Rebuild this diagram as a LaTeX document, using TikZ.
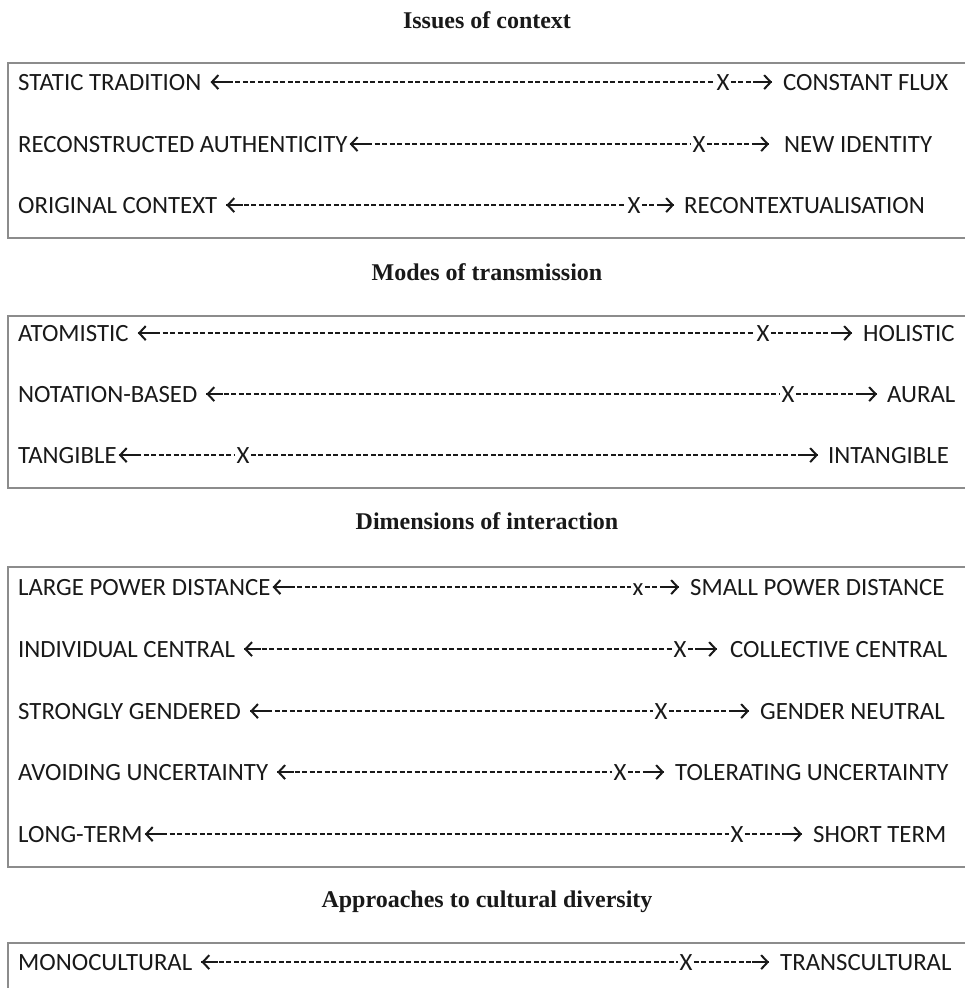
\documentclass[tikz,border=0pt]{standalone}
\usepackage{fontspec}
\newfontfamily\rowfont{Carlito}
\newfontfamily\headfont{Liberation Serif}
\usetikzlibrary{arrows.meta}
\definecolor{boxgray}{RGB}{140,140,140}
\definecolor{ink}{RGB}{25,25,25}
\tikzset{
  lab/.style={inner sep=0pt, text=ink, font=\rowfont\fontsize{24.8}{28}\selectfont},
  xmark/.style={lab, inner xsep=1.2pt},
  head/.style={anchor=base, inner sep=0pt, text=ink, font=\headfont\bfseries\fontsize{24}{28}\selectfont},
  panel/.style={draw=boxgray, line width=2pt},
  dashline/.style={draw=ink, line width=1.8pt, dash pattern=on 5pt off 2.5pt},
  shaft/.style={draw=ink, line width=2pt},
  tipL/.style={{Straight Barb[length=6.5pt,width=14pt,line width=2pt]}-},
  tipR/.style={-{Straight Barb[length=6.5pt,width=14pt,line width=2pt]}},
}
% #1 id, #2 baseline, #3 left text, #4 gap before left arrow, #5 X centre,
% #6 mark, #7 right arrow tip, #8 right text start, #9 right text
\newcommand{\scalerow}[9]{%
  \node[lab, anchor=base west] (#1L) at (18,#2) {#3};
  \node[xmark, anchor=base] (#1X) at (#5,#2) {#6};
  \node[lab, anchor=base west] (#1R) at (#8,#2) {#9};
  \coordinate (#1a) at ([xshift=#4pt]#1L.base east |- 0,#2-7.9);
  \coordinate (#1b) at (#7,#2-7.9);
  \draw[dashline, tipL] (#1a) -- (#1X.west |- #1a);
  \draw[shaft] (#1a) -- ++(17,0);
  \draw[dashline, tipR] (#1X.east |- #1b) -- (#1b);
  \draw[shaft] (#1b) -- ++(-17,0);
}
\begin{document}
\begin{tikzpicture}[x=1pt,y=-1pt]
\useasboundingbox (0,0) rectangle (965,988);
\clip (0,0) rectangle (965,988);
\fill[white] (0,0) rectangle (965,988);

% titles
\node[head] (t1) at (487,28) {Issues of context};
\node[head] (t2) at (487,280) {Modes of transmission};
\node[head] (t3) at (487,529) {Dimensions of interaction};
\node[head] (t4) at (487,907) {Approaches to cultural diversity};

% panels
\draw[panel] (8,63) rectangle (985,238);
\draw[panel] (8,316) rectangle (985,488);
\draw[panel] (8,567) rectangle (985,867);
\draw[panel] (8,943) rectangle (985,1010);

% Issues of context
\scalerow{a1}{90}{STATIC TRADITION}{9}{723}{X}{772}{783}{CONSTANT FLUX}
\scalerow{a2}{152}{RECONSTRUCTED AUTHENTICITY}{2}{699}{X}{769}{784}{NEW IDENTITY}
\scalerow{a3}{213}{ORIGINAL CONTEXT}{9}{634}{X}{674}{684}{RECONTEXTUALISATION}

% Modes of transmission
\scalerow{b1}{341}{ATOMISTIC}{9}{763}{X}{852}{863}{HOLISTIC}
\scalerow{b2}{402}{NOTATION-BASED}{9}{788}{X}{877}{887}{AURAL}
\scalerow{b3}{463}{TANGIBLE}{2}{243}{X}{818}{828}{INTANGIBLE}

% Dimensions of interaction
\scalerow{c1}{595}{LARGE POWER DISTANCE}{2}{638}{x}{679}{690}{SMALL POWER DISTANCE}
\scalerow{c2}{657}{INDIVIDUAL CENTRAL}{9}{680}{X}{717}{730}{COLLECTIVE CENTRAL}
\scalerow{c3}{719}{STRONGLY GENDERED}{9}{661}{X}{749}{760}{GENDER NEUTRAL}
\scalerow{c4}{780}{AVOIDING UNCERTAINTY}{9}{620}{X}{664}{675}{TOLERATING UNCERTAINTY}
\scalerow{c5}{842}{LONG-TERM}{2}{737}{X}{802}{813}{SHORT TERM}

% Approaches to cultural diversity
\scalerow{d1}{970}{MONOCULTURAL}{9}{686}{X}{769}{780}{TRANSCULTURAL}
\end{tikzpicture}
\end{document}
